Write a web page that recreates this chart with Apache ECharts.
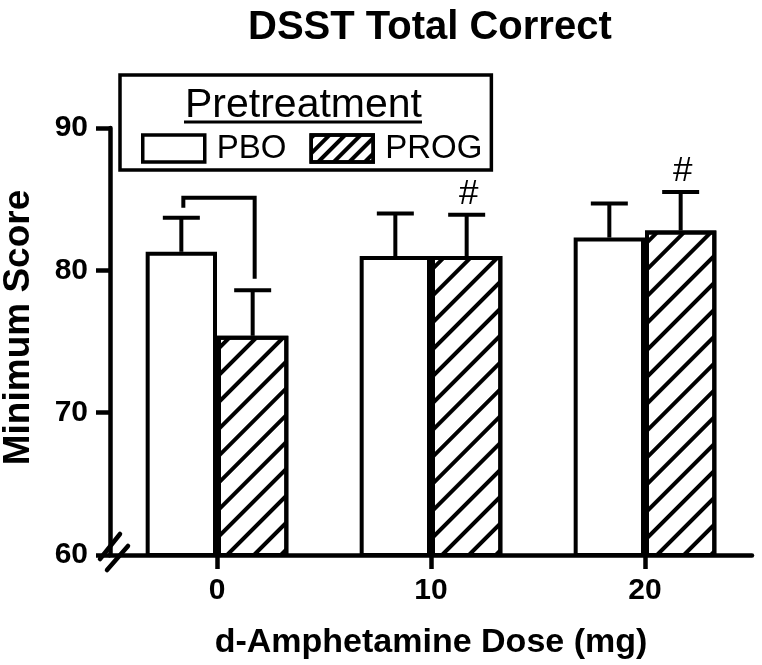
<!DOCTYPE html>
<html>
<head>
<meta charset="utf-8">
<script src="https://cdn.jsdelivr.net/npm/echarts@6/dist/echarts.min.js"></script>
<style>
html,body{margin:0;padding:0;background:#fff;}
#chart{width:762px;height:665px;}
</style>
</head>
<body>
<div id="chart"></div>
<script>
// ---- data ----
var doseLabels = ['0', '10', '20'];
var pboMean = [81.3, 81.0, 82.3];
var pboSEM  = [2.4, 3.0, 2.4];
var progMean = [75.4, 81.0, 82.8];
var progSEM  = [3.2, 2.9, 2.7];
var progMarks = ['', '#', '#'];
var bracketCat = 0;
var bracketTop = 85.1;
var bracketLeftEnd = 84.4;
var bracketRightEnd = 79.4;
var yTicks = {min: 60, max: 90, interval: 10};

var FONT = "'Liberation Sans', Arial, Helvetica, sans-serif";
var BAR_FRAC = 1 / 3;

var chart = echarts.init(document.getElementById('chart'));

var barDecal = {
  symbol: 'rect', symbolSize: 1,
  dashArrayX: [1, 0], dashArrayY: [4, 15],
  rotation: -Math.PI / 4, color: '#000'
};
var legendDecal = {
  symbol: 'rect', symbolSize: 1,
  dashArrayX: [1, 0], dashArrayY: [3.5, 7],
  rotation: -Math.PI / 4, color: '#000'
};

var errData = [];
doseLabels.forEach(function (d, i) {
  errData.push([i, pboMean[i], pboMean[i] + pboSEM[i], -1, '']);
  errData.push([i, progMean[i], progMean[i] + progSEM[i], 1, progMarks[i]]);
});

function renderErr(params, api) {
  var cat = api.value(0);
  var band = api.size([1, 0])[0];
  var side = api.value(3);
  var off = side * band * BAR_FRAC / 2;
  var p0 = api.coord([cat, api.value(1)]);
  var p1 = api.coord([cat, api.value(2)]);
  var x = p0[0] + off;
  var mark = errData[params.dataIndex][4];
  var children = [
    {type: 'line', shape: {x1: x, y1: p0[1], x2: x, y2: p1[1]}, style: {stroke: '#000', lineWidth: 4}},
    {type: 'line', shape: {x1: x - 18.5, y1: p1[1], x2: x + 18.5, y2: p1[1]}, style: {stroke: '#000', lineWidth: 4}}
  ];
  if (mark) {
    children.push({type: 'text', style: {text: mark, x: x + 2, y: p1[1] - 3, align: 'center', verticalAlign: 'bottom',
      font: 'normal 35px ' + FONT, fill: '#000'}});
  }
  return {type: 'group', children: children};
}

function renderBracket(params, api) {
  var cat = api.value(0);
  var band = api.size([1, 0])[0];
  var off = band * BAR_FRAC / 2;
  var c = api.coord([cat, api.value(1)]);
  var yL = api.coord([cat, api.value(2)])[1];
  var yR = api.coord([cat, api.value(3)])[1];
  var xL = c[0] - off + 2, xR = c[0] + off + 2;
  return {type: 'polyline', shape: {points: [[xL, yL], [xL, c[1]], [xR, c[1]], [xR, yR]]},
    style: {stroke: '#000', lineWidth: 4, fill: null}};
}

function renderBreak(params, api) {
  var ox = params.coordSys.x, oy = params.coordSys.y + params.coordSys.height;
  var st = {stroke: '#000', lineWidth: 4.5, lineCap: 'round'};
  return {type: 'group', children: [
    {type: 'line', shape: {x1: ox - 10, y1: oy + 4, x2: ox + 10, y2: oy - 21}, style: st},
    {type: 'line', shape: {x1: ox - 3, y1: oy + 15, x2: ox + 18, y2: oy - 9}, style: st}
  ]};
}

var option = {
  animation: false,
  backgroundColor: '#fff',
  textStyle: {fontFamily: FONT},
  title: [
    {text: 'DSST Total Correct', left: 248, top: 8, padding: 0,
     textStyle: {fontFamily: FONT, fontSize: 40, fontWeight: 'bold', color: '#000'}},
    {text: 'Pretreatment', left: 185, top: 85, padding: 0,
     textStyle: {fontFamily: FONT, fontSize: 41, fontWeight: 'normal', color: '#000'}}
  ],
  legend: {
    left: 120, top: 75,
    orient: 'horizontal',
    padding: [57, 9, 5, 21],
    borderColor: '#000', borderWidth: 3.5,
    itemWidth: 62, itemHeight: 27, itemGap: 23,
    icon: 'rect',
    selectedMode: false,
    textStyle: {fontFamily: FONT, fontSize: 33, color: '#000', padding: [0, 0, 0, 7]},
    data: [
      {name: 'PBO', itemStyle: {color: '#fff', borderColor: '#000', borderWidth: 3.5}},
      {name: 'PROG', itemStyle: {color: '#fff', borderColor: '#000', borderWidth: 3.5, decal: legendDecal}}
    ]
  },
  graphic: [
    {type: 'line', shape: {x1: 184, y1: 122, x2: 422, y2: 122}, style: {stroke: '#000', lineWidth: 3}}
  ],
  grid: {left: 110, right: 10, top: 128, bottom: 110, containLabel: false, outerBoundsMode: 'none'},
  xAxis: {
    type: 'category',
    data: doseLabels,
    name: 'd-Amphetamine Dose (mg)',
    nameLocation: 'middle',
    nameGap: 71,
    nameTextStyle: {fontFamily: FONT, fontSize: 34, fontWeight: 'bold', color: '#000'},
    axisLine: {lineStyle: {color: '#000', width: 4.5}},
    axisTick: {show: true, alignWithLabel: true, length: 14, lineStyle: {color: '#000', width: 4.5}},
    axisLabel: {fontFamily: FONT, fontSize: 30, fontWeight: 'bold', color: '#000', margin: 21},
    splitLine: {show: false}
  },
  yAxis: {
    type: 'value',
    min: yTicks.min, max: yTicks.max, interval: yTicks.interval,
    name: 'Minimum Score',
    nameLocation: 'middle',
    nameGap: 73,
    nameTextStyle: {fontFamily: FONT, fontSize: 37, fontWeight: 'bold', color: '#000', padding: [0, 0, 0, 28]},
    axisLine: {show: true, lineStyle: {color: '#000', width: 4.5}},
    axisTick: {show: true, length: 14, lineStyle: {color: '#000', width: 4.5}},
    axisLabel: {fontFamily: FONT, fontSize: 30, fontWeight: 'bold', color: '#000', margin: 22},
    splitLine: {show: false}
  },
  series: [
    {name: 'PBO', type: 'bar', data: pboMean, barWidth: '33.33%', barGap: '0%',
     itemStyle: {color: '#fff', borderColor: '#000', borderWidth: 4}},
    {name: 'PROG', type: 'bar', data: progMean, barWidth: '33.33%', barGap: '0%',
     itemStyle: {color: '#fff', borderColor: '#000', borderWidth: 4, decal: barDecal}},
    {name: 'err', type: 'custom', renderItem: renderErr, data: errData, encode: {x: 0, y: 1}, clip: false, z: 3},
    {name: 'bracket', type: 'custom', renderItem: renderBracket,
     data: [[bracketCat, bracketTop, bracketLeftEnd, bracketRightEnd]], encode: {x: 0, y: 1}, clip: false, z: 3},
    {name: 'break', type: 'custom', renderItem: renderBreak, data: [[0, yTicks.min]], encode: {x: 0, y: 1}, clip: false, z: 4}
  ]
};
chart.setOption(option);
</script>
</body>
</html>
